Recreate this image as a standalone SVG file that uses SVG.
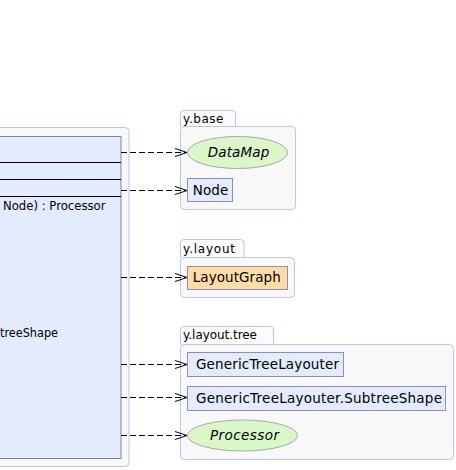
<svg xmlns="http://www.w3.org/2000/svg" width="456" height="470" viewBox="0 0 456 470">
<defs>
<style>
.pkg{fill:#f8f8f8;stroke:#b9c6ee;stroke-width:1}
.tab{fill:#fbfbfb;stroke:#b9c6ee;stroke-width:1}
.cls{fill:#e2ecfd;stroke:#8c8cc0;stroke-width:1}
.ifc{fill:#d9f7c8;stroke:#a8a8a8;stroke-width:1}
.lay{fill:#fddca6;stroke:#8c8cc0;stroke-width:1}
.t{font-family:"DejaVu Sans",sans-serif;font-size:13.5px;fill:#000}
.m{font-family:"DejaVu Sans",sans-serif;font-size:12.5px;fill:#000}
.i{font-style:italic}
.pt{font-family:"DejaVu Sans",sans-serif;font-size:12px;fill:#000}
.dep{fill:none;stroke:#000;stroke-width:1;stroke-dasharray:6,3}
</style>
<marker id="open" markerWidth="14" markerHeight="10" refX="13" refY="5" orient="auto" markerUnits="userSpaceOnUse">
<path d="M1,1 L13,5 L1,9" fill="none" stroke="#000" stroke-width="1"/>
</marker>
</defs>
<g id="main">
<rect x="-10" y="127.5" width="139" height="339" rx="4" fill="#f8f8f8" stroke="#b9c6ee"/>
<rect x="-10" y="136.5" width="131" height="322" fill="#e2ecfd" stroke="#8080b0"/>
<line x1="-10" y1="162.5" x2="121" y2="162.5" stroke="#000"/>
<line x1="-10" y1="179.5" x2="121" y2="179.5" stroke="#000"/>
<line x1="-10" y1="196.5" x2="121" y2="196.5" stroke="#000"/>
<text class="m" x="3" y="210" textLength="102.5" lengthAdjust="spacingAndGlyphs">Node) : Processor</text>
<text class="m" x="0" y="337" textLength="58" lengthAdjust="spacingAndGlyphs">treeShape</text>
</g>
<g id="pkg-y.base">
<path class="tab" d="M180.5,127 V114 Q180.5,110.5 184,110.5 H232 Q235.5,110.5 235.5,114 V127"/>
<rect class="pkg" x="180.5" y="126.5" width="115" height="83" rx="4"/>
<text class="pt" x="183" y="123" textLength="40.5" lengthAdjust="spacing">y.base</text>
</g>
<g id="DataMap">
<ellipse class="ifc" cx="237.5" cy="152.5" rx="50" ry="16"/>
<text class="t i" x="207.7" y="157" textLength="61.6" lengthAdjust="spacing">DataMap</text>
</g>
<g id="Node">
<rect class="cls" x="187.5" y="178.5" width="45" height="23"/>
<text class="t" x="192.7" y="194.5" textLength="35.6" lengthAdjust="spacing">Node</text>
</g>
<g id="pkg-y.layout">
<path class="tab" d="M180.5,258 V243 Q180.5,239.5 184,239.5 H240.5 Q244,239.5 244,243 V258"/>
<rect class="pkg" x="180.5" y="257.5" width="114" height="40" rx="4"/>
<text class="pt" x="183" y="253" textLength="52" lengthAdjust="spacing">y.layout</text>
</g>
<g id="LayoutGraph">
<rect class="lay" x="187.5" y="266.5" width="100" height="23"/>
<text class="t" x="192.7" y="282" textLength="88" lengthAdjust="spacing">LayoutGraph</text>
</g>
<g id="pkg-y.layout.tree">
<path class="tab" d="M180.5,345 V330 Q180.5,326.5 184,326.5 H270 Q273.5,326.5 273.5,330 V345"/>
<rect class="pkg" x="180.5" y="344.5" width="273" height="115" rx="4"/>
<text class="pt" x="183" y="339" textLength="74" lengthAdjust="spacing">y.layout.tree</text>
</g>
<g id="GenericTreeLayouter">
<rect class="cls" x="187.5" y="352.5" width="156" height="24"/>
<text class="t" x="196" y="369" textLength="143" lengthAdjust="spacing">GenericTreeLayouter</text>
</g>
<g id="SubtreeShape">
<rect class="cls" x="187.5" y="386.5" width="258" height="24"/>
<text class="t" x="196" y="402.5" textLength="246" lengthAdjust="spacing">GenericTreeLayouter.SubtreeShape</text>
</g>
<g id="Processor">
<ellipse class="ifc" cx="242.5" cy="435.5" rx="55" ry="15.5"/>
<text class="t i" x="210" y="440" textLength="69" lengthAdjust="spacing">Processor</text>
</g>
<g id="connectors">
<line class="dep" x1="121" y1="152.5" x2="187" y2="152.5" marker-end="url(#open)"/>
<line class="dep" x1="121" y1="190.5" x2="187" y2="190.5" marker-end="url(#open)"/>
<line class="dep" x1="121" y1="277.5" x2="187" y2="277.5" marker-end="url(#open)"/>
<line class="dep" x1="121" y1="364.5" x2="187" y2="364.5" marker-end="url(#open)"/>
<line class="dep" x1="121" y1="397.5" x2="187" y2="397.5" marker-end="url(#open)"/>
<line class="dep" x1="121" y1="435.5" x2="187" y2="435.5" marker-end="url(#open)"/>
</g>
</svg>
